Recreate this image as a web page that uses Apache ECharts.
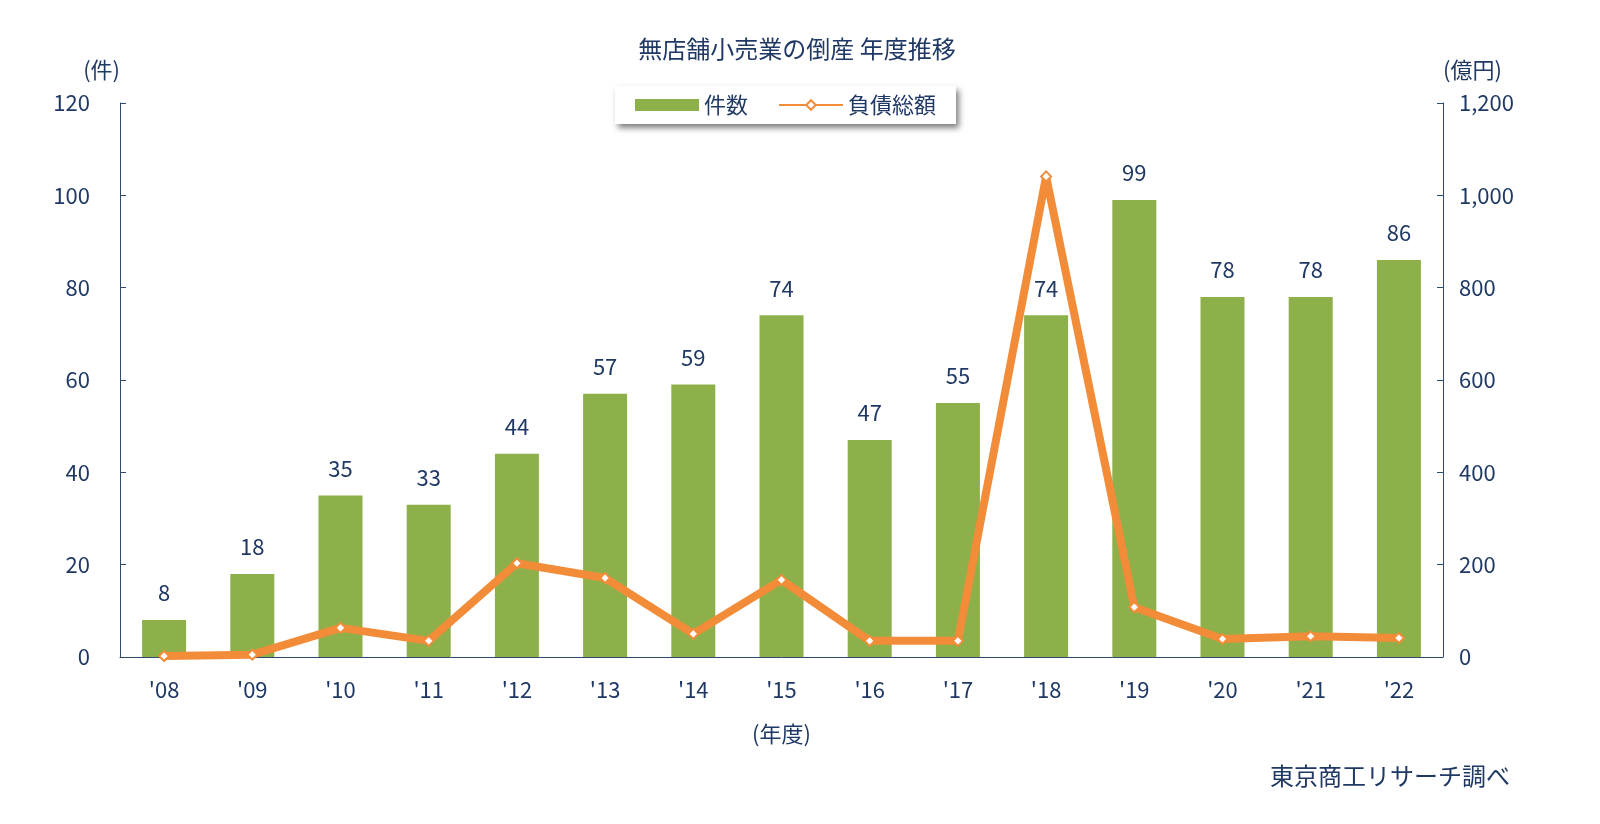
<!DOCTYPE html><html><head><meta charset="utf-8"><script src="https://cdn.jsdelivr.net/npm/echarts@6/dist/echarts.min.js"></script>
<style>html,body{margin:0;background:#fff}#c{width:1600px;height:824px}</style></head><body><div id="c"></div>
<script>
const categories=["'08","'09","'10","'11","'12","'13","'14","'15","'16","'17","'18","'19","'20","'21","'22"];
const counts=[8,18,35,33,44,57,59,74,47,55,74,99,78,78,86];
const debt=[2,5,63,35,203,171,50,167,35,35,1041,108,39,45,41];
const txt='#1f3864',ff='"Noto Sans CJK JP", sans-serif';
const ch=echarts.init(document.getElementById('c'));
ch.setOption({
 animation:false,
 textStyle:{fontFamily:ff},
 title:{text:'無店舗小売業の倒産 年度推移',left:792,textAlign:'center',top:32,textStyle:{fontFamily:ff,fontSize:24,fontWeight:'normal',color:'#1f3864'}},
 legend:{top:86,left:615,itemGap:30,backgroundColor:'#fff',padding:[8,20,8,20],shadowColor:'rgba(0,0,0,0.5)',shadowBlur:6,shadowOffsetX:3,shadowOffsetY:4,textStyle:{fontFamily:ff,fontSize:22,color:txt},itemWidth:64,itemHeight:12,
  data:[{name:'件数',icon:'rect'},{name:'負債総額'}]},
 grid:{left:120,right:157,top:103,bottom:167},
 xAxis:{type:'category',data:categories,axisTick:{show:false},axisLine:{lineStyle:{color:'#2f4a6d'}},axisLabel:{color:txt,fontSize:22,margin:22},
  name:'(年度)',nameLocation:'middle',nameGap:66,nameTextStyle:{color:txt,fontSize:22}},
 yAxis:[{type:'value',min:0,max:120,interval:20,splitLine:{show:false},axisLine:{show:true,lineStyle:{color:'#2f4a6d'}},axisTick:{show:true,inside:true,length:6},axisLabel:{color:txt,fontSize:22,margin:30},
   name:'(件)',nameLocation:'end',nameGap:22,nameTextStyle:{color:txt,fontSize:22,align:'right'}},
  {type:'value',min:0,max:1200,interval:200,splitLine:{show:false},axisLine:{show:true,lineStyle:{color:'#2f4a6d'}},axisTick:{show:true,inside:true,length:6},axisLabel:{color:txt,fontSize:22,margin:16,formatter:v=>v.toLocaleString('en-US')},
   name:'(億円)',nameLocation:'end',nameGap:22,nameTextStyle:{color:txt,fontSize:22,align:'left'}}],
 graphic:[{type:'text',right:90,bottom:36,style:{text:'東京商工リサーチ調べ',font:'24px '+ff,fill:'#1f3864'}}],
 series:[
  {name:'件数',type:'bar',data:counts,barWidth:44,itemStyle:{color:'#8db04a'},label:{show:true,position:'top',distance:16,color:txt,fontSize:22}},
  {name:'負債総額',type:'line',yAxisIndex:1,data:debt,symbol:'diamond',symbolSize:10,lineStyle:{color:'#f28c38',width:8},itemStyle:{color:'#fff',borderColor:'#f28c38',borderWidth:2}}
 ]});
</script></body></html>
